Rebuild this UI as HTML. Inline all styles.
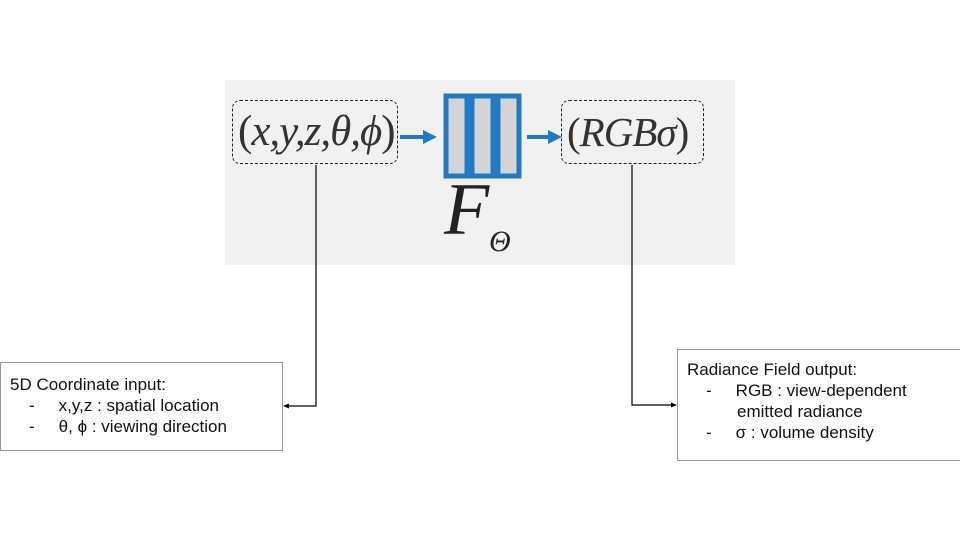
<!DOCTYPE html>
<html><head><style>
body{margin:0;width:960px;height:540px;background:#fff;position:relative;overflow:hidden;font-family:"Liberation Sans",sans-serif}
.a{position:absolute}
.math{font-family:"Liberation Serif","DejaVu Serif",serif;font-style:italic;color:#333;white-space:nowrap}
.math span{font-style:normal}
.box{position:absolute;border:1px solid #999;background:#fff;font-size:17px;color:#111;line-height:21px;box-sizing:border-box}
</style></head><body>
<div class="a" style="left:225px;top:80px;width:510px;height:185px;background:#f1f1f1"></div>
<div class="a" style="left:232px;top:100px;width:166px;height:64px;border:1px dashed #222;border-radius:8px;box-sizing:border-box"></div>
<div class="a math" style="left:238px;top:104px;font-size:43px;line-height:56px;letter-spacing:-1px"><span>(</span>x,y,z,θ,ϕ<span>)</span></div>
<div class="a math" style="left:567px;top:104px;font-size:41px;line-height:56px;letter-spacing:-1px"><span>(</span>RGBσ<span>)</span></div>
<div class="a" style="left:561px;top:100px;width:143px;height:64px;border:1px dashed #222;border-radius:8px;box-sizing:border-box"></div>
<svg class="a" style="left:0;top:0" width="960" height="540">
<g fill="#d4d4d6" stroke="#1f7bc4" stroke-width="5">
<rect x="446" y="96" width="21" height="80"/><rect x="472" y="96" width="21" height="80"/><rect x="498" y="96" width="21" height="80"/>
</g>
<g stroke="#1f7bc4" stroke-width="4" fill="#1f7bc4">
<line x1="400" y1="137" x2="425" y2="137"/><polygon points="437,137 423,130 423,144" stroke="none"/>
<line x1="527" y1="137" x2="550" y2="137"/><polygon points="562,137 548,130 548,144" stroke="none"/>
</g>
<g stroke="#000" stroke-width="1.2" fill="none">
<polyline points="316,165 316,406 287,406"/>
<polyline points="632,165 632,405 672,405"/>
</g>
<polygon points="283,406 289,403.5 289,408.5" fill="#000"/>
<polygon points="677,405 671,402.5 671,407.5" fill="#000"/>
</svg>
<div class="a math" style="left:444px;top:172px;font-size:74px;line-height:76px;color:#222">F</div>
<div class="a math" style="left:489px;top:226px;font-size:30px;line-height:32px;color:#222">Θ</div>
<div class="box" style="left:0;top:362px;width:283px;height:89px;padding:11px 0 0 9px">5D Coordinate input:<br>
<span style="padding-left:19px">-</span><span style="padding-left:24px">x,y,z : spatial location</span><br>
<span style="padding-left:19px">-</span><span style="padding-left:24px">θ, ϕ : viewing direction</span></div>
<div class="box" style="left:677px;top:349px;width:284px;height:112px;padding:9px 0 0 9px">Radiance Field output:<br>
<span style="padding-left:19px">-</span><span style="padding-left:24px">RGB : view-dependent</span><br>
<span style="padding-left:50px">emitted radiance</span><br>
<span style="padding-left:19px">-</span><span style="padding-left:24px">σ : volume density</span></div>
</body></html>
